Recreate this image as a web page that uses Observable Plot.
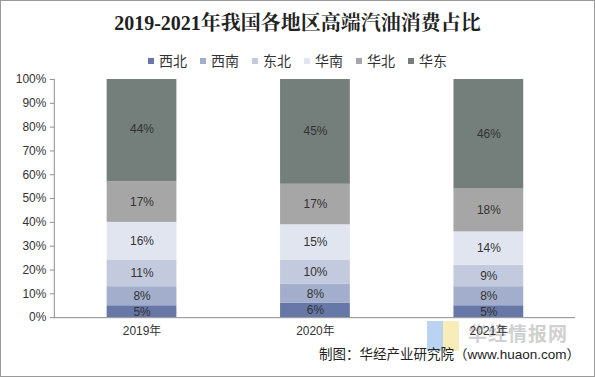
<!DOCTYPE html>
<html><head><meta charset="utf-8">
<script src="https://cdn.jsdelivr.net/npm/d3@7"></script>
<script src="https://cdn.jsdelivr.net/npm/@observablehq/plot@0.6"></script>
<style>
body{margin:0;background:#fff;}
#wrap{position:relative;width:595px;height:377px;box-sizing:border-box;border:1px solid #9a9a9a;background:#fff;font-family:"Liberation Sans","Noto Sans CJK SC",sans-serif;overflow:hidden;}
#title{position:absolute;top:9px;left:0;width:593px;text-align:center;font:bold 20px/26px "Liberation Serif","Noto Serif CJK SC","Noto Sans CJK SC",serif;color:#222;}
#legend{position:absolute;top:51px;left:0;width:593px;display:flex;justify-content:center;gap:13px;font-size:14px;line-height:18px;color:#333;}
#legend span.it{display:flex;align-items:center;}
#legend i{display:inline-block;width:6px;height:6px;margin-right:5px;}
#chart{position:absolute;top:70px;left:0;}
#caption{position:absolute;right:14px;top:345px;font-size:13.5px;line-height:18px;color:#222;}
#wm{position:absolute;left:467px;top:322px;font:bold 19px/19px "Noto Sans CJK SC",sans-serif;color:#c8c8c8;opacity:0.85;letter-spacing:1px;}
#logo1{position:absolute;left:426px;top:320px;width:16px;height:30px;background:#9cc0ec;opacity:0.7;}
#logo2{position:absolute;left:442px;top:320px;width:16px;height:30px;background:#f5e49a;opacity:0.7;}
</style></head>
<body>
<div id="wrap">
  <div id="title"></div>
  <div id="legend"></div>
  <div id="logo1"></div><div id="logo2"></div>
  <div id="wm">华经情报网</div>
  <div id="chart"></div>
  <div id="caption"></div>
</div>
<script>
const titleText = "2019-2021年我国各地区高端汽油消费占比";
const captionText = "制图：华经产业研究院（www.huaon.com）";
const years = ["2019年", "2020年", "2021年"];
const regions = ["西北", "西南", "东北", "华南", "华北", "华东"];
const colors = ["#6677a8", "#a2aecb", "#c3cadd", "#e0e5f0", "#a6a6a6", "#747e7b"];
const v西北 = [5, 6, 5];
const v西南 = [8, 8, 8];
const v东北 = [11, 10, 9];
const v华南 = [16, 15, 14];
const v华北 = [17, 17, 18];
const v华东 = [44, 45, 46];
const yTicks = [0, 10, 20, 30, 40, 50, 60, 70, 80, 90, 100];

const seriesValues = [v西北, v西南, v东北, v华南, v华北, v华东];
const data = [];
regions.forEach((r, i) => years.forEach((y, j) => data.push({year: y, region: r, value: seriesValues[i][j]})));

document.getElementById("title").textContent = titleText;
document.getElementById("caption").textContent = captionText;
const lg = document.getElementById("legend");
regions.forEach((r, i) => {
  const s = document.createElement("span"); s.className = "it";
  const b = document.createElement("i"); b.style.background = colors[i];
  s.appendChild(b); s.appendChild(document.createTextNode(r)); lg.appendChild(s);
});

const chart = Plot.plot({
  width: 595, height: 277,
  marginTop: 8, marginBottom: 30, marginLeft: 53, marginRight: 19,
  style: {fontFamily: '"Liberation Sans","Noto Sans CJK SC",sans-serif', fontSize: "12px", color: "#333", background: "transparent"},
  x: {domain: years, paddingInner: 0.6, paddingOuter: 0.3, label: null, tickSize: 0, tickPadding: 9},
  y: {domain: [0, 100], ticks: yTicks, tickFormat: d => d + "%", label: null, tickSize: 4, tickPadding: 4},
  color: {domain: regions, range: colors},
  marks: [
    Plot.barY(data, Plot.stackY({x: "year", y: "value", fill: "region", order: regions, clip: true})),
    Plot.text(data, Plot.stackY({x: "year", y: "value", z: "region", order: regions, text: d => d.value + "%", fill: "#333", fontSize: 12})),
    Plot.frame({anchor: "left", stroke: "#8c8c8c"}),
    Plot.ruleY([0], {stroke: "#8c8c8c"})
  ]
});
chart.querySelectorAll('[aria-label="y-axis tick"] path, [aria-label="y-axis tick"]').forEach(e => e.setAttribute("stroke", "#8c8c8c"));
document.getElementById("chart").appendChild(chart);
</script>
</body></html>
